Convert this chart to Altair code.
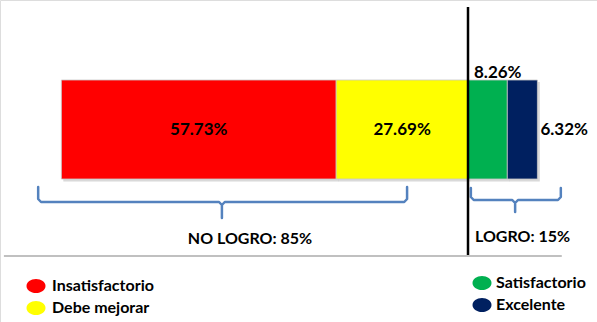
import altair as alt
import pandas as pd

# ---- data ----
categories = ["Insatisfactorio", "Debe mejorar", "Satisfactorio", "Excelente"]
values = [57.73, 27.69, 8.26, 6.32]
colors = ["#FF0000", "#FFFF00", "#00B050", "#002060"]
label_place = ["center", "center", "top", "right"]
value_labels = ["57.73%", "27.69%", "8.26%", "6.32%"]

group_labels = ["NO LOGRO: 85%", "LOGRO: 15%"]

# ---- layout anchors (x in percent units of the axis, y in rows of the page) ----
X_DOMAIN = [-98.32, 27.10]
Y_DOMAIN = [0, 322]
BAR_TOP, BAR_BOTTOM = 80, 179
W, H = 597, 322
FONT = "Lato"

# stacked positions computed from the values
neg_total = values[0] + values[1]
starts = [-neg_total, -values[1], 0.0, values[2]]
ends = [-values[1], 0.0, values[2], values[2] + values[3]]

bars = pd.DataFrame({
    "cat": categories, "v": values, "start": starts, "end": ends,
    "place": label_place, "label": value_labels,
    "y": [BAR_TOP] * 4, "y2": [BAR_BOTTOM] * 4,
})
bars["mid"] = (bars["start"] + bars["end"]) / 2

xs = alt.Scale(domain=X_DOMAIN, nice=False, zero=False)
ys = alt.Scale(domain=Y_DOMAIN, reverse=True, nice=False, zero=False)
color_scale = alt.Scale(domain=categories, range=colors)

X = lambda f: alt.X(f, type="quantitative", scale=xs, axis=None)
Y = lambda f: alt.Y(f, type="quantitative", scale=ys, axis=None)

base = alt.Chart(bars)

shadow = base.mark_rect(color="#bfbfbf", opacity=0.6).transform_calculate(
    sx="datum.start + 0.4", sx2="datum.end + 0.5", sy="datum.y + 2", sy2="datum.y2 + 2.5"
).encode(x=X("sx:Q"), x2="sx2:Q", y=Y("sy:Q"), y2="sy2:Q")

bar = base.mark_rect(stroke="#c8c8c8", strokeWidth=0.8).encode(
    x=X("start:Q"), x2="end:Q", y=Y("y:Q"), y2="y2:Q",
    color=alt.Color("cat:N", scale=color_scale, legend=None),
)

txt_center = base.transform_filter("datum.place == 'center'").transform_calculate(
    ty="(datum.y + datum.y2) / 2"
).mark_text(font=FONT, fontWeight="bold", fontSize=17, color="black",
            baseline="middle", align="center").encode(
    x=X("mid:Q"), y=Y("ty:Q"), text="label:N")

txt_top = base.transform_filter("datum.place == 'top'").transform_calculate(
    ty="datum.y - 7"
).mark_text(font=FONT, fontWeight="bold", fontSize=17, color="black",
            baseline="middle", align="left", dx=6).encode(
    x=X("start:Q"), y=Y("ty:Q"), text="label:N")

txt_right = base.transform_filter("datum.place == 'right'").transform_calculate(
    ty="(datum.y + datum.y2) / 2"
).mark_text(font=FONT, fontWeight="bold", fontSize=17, color="black",
            baseline="middle", align="left", dx=3).encode(
    x=X("end:Q"), y=Y("ty:Q"), text="label:N")

# vertical divider and bottom gray rule
divider = alt.Chart(pd.DataFrame({"x": [0.0], "y": [7], "y2": [257]})).mark_rule(
    color="black", strokeWidth=2.5).encode(x=X("x:Q"), y=Y("y:Q"), y2="y2:Q")

bottom_rule = alt.Chart(pd.DataFrame({"x": [-97.5], "x2": [19.7], "y": [256]})).mark_rule(
    color="#c0c0c0", strokeWidth=2).encode(x=X("x:Q"), x2="x2:Q", y=Y("y:Q"))

# braces
brace_specs = [  # (x0, x1, tip, top, mid, bottom)
    (-90.3, -12.8, -51.7, 187, 202, 218),
    (0.6, 19.5, 9.9, 188, 200, 212),
]
r = 0.6
rows = []
for b, (x0, x1, tip, top, mid, bot) in enumerate(brace_specs):
    pts = [(x0, top), (x0, mid - 3), (x0 + r, mid), (tip - r, mid), (tip, mid + 3),
           (tip, bot), (tip, mid + 3), (tip + r, mid), (x1 - r, mid), (x1, mid - 3), (x1, top)]
    for i, (px, py) in enumerate(pts):
        rows.append({"b": b, "i": i, "x": px, "y": py})
braces = alt.Chart(pd.DataFrame(rows)).mark_line(
    color="#5482BE", strokeWidth=2.5, strokeCap="round", strokeJoin="round"
).encode(x=X("x:Q"), y=Y("y:Q"), detail="b:N", order="i:Q")

# group labels
groups = pd.DataFrame({"label": group_labels, "x": [-45.8, 1.47], "y": [239, 237],
                       "align": ["center", "left"]})
g_center = alt.Chart(groups).transform_filter("datum.align == 'center'").mark_text(
    font=FONT, fontWeight="bold", fontSize=16, color="black", baseline="middle", align="center"
).encode(x=X("x:Q"), y=Y("y:Q"), text="label:N")
g_left = alt.Chart(groups).transform_filter("datum.align == 'left'").mark_text(
    font=FONT, fontWeight="bold", fontSize=16, color="black", baseline="middle", align="left"
).encode(x=X("x:Q"), y=Y("y:Q"), text="label:N")

# custom legend
leg = pd.DataFrame({
    "cat": categories,
    "mx": [-90.76, -90.76, 2.94, 2.94],
    "tx": [-87.39, -87.39, 5.88, 5.88],
    "y": [286, 308, 283, 305],
})
ellipse = "M-1,0 A1,0.74 0 1,0 1,0 A1,0.74 0 1,0 -1,0 Z"
leg_marks = alt.Chart(leg).mark_point(shape=ellipse, filled=True, opacity=1, size=361).encode(
    x=X("mx:Q"), y=Y("y:Q"), color=alt.Color("cat:N", scale=color_scale, legend=None))
leg_text = alt.Chart(leg).mark_text(
    font=FONT, fontWeight="bold", fontSize=16, color="black", baseline="middle", align="left"
).encode(x=X("tx:Q"), y=Y("y:Q"), text="cat:N")

chart = alt.layer(
    shadow, bar, txt_center, txt_top, txt_right, braces, divider, bottom_rule,
    g_center, g_left, leg_marks, leg_text
).properties(
    width=W, height=H, autosize=alt.AutoSizeParams(type="none"), padding=0
).configure_view(stroke=None).configure(background="white")

chart.save("out.html", embed_options={"renderer": "svg", "actions": False})
